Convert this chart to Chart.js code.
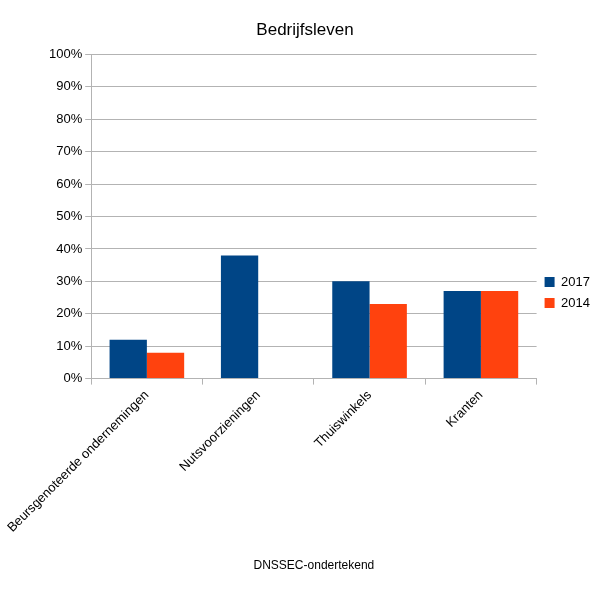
<!DOCTYPE html>
<html><head><meta charset="utf-8">
<script src="https://cdn.jsdelivr.net/npm/chart.js@4"></script>
<style>body{margin:0;background:#fff}#c{display:block}</style>
</head><body>
<div style="width:605px;height:589px"><canvas id="c"></canvas></div>
<script>
const categories = ["Beursgenoteerde ondernemingen", "Nutsvoorzieningen", "Thuiswinkels", "Kranten"];
const values2017 = [12, 38, 30, 27];
const values2014 = [8, 0, 23, 27];

Chart.defaults.font.family = "'Liberation Sans', Arial, sans-serif";
Chart.defaults.color = "#000";

new Chart(document.getElementById("c"), {
  type: "bar",
  data: {
    labels: categories,
    datasets: [
      { label: "2017", data: values2017, backgroundColor: "#004586" },
      { label: "2014", data: values2014, backgroundColor: "#ff420e" },
    ],
  },
  options: {
    animation: false,
    responsive: true,
    maintainAspectRatio: false,
    layout: { padding: { top: 8, right: 5, left: 10, bottom: 12 } },
    datasets: { bar: { barPercentage: 1, categoryPercentage: 0.67 } },
    scales: {
      y: {
        min: 0, max: 100,
        ticks: { stepSize: 10, font: { size: 13 }, callback: (v) => v + "%" },
        grid: { color: "#b3b3b3", tickLength: 6 },
        border: { color: "#b3b3b3" },
      },
      x: {
        ticks: { minRotation: 45, maxRotation: 45, font: { size: 13 } },
        grid: { display: true, drawOnChartArea: false, offset: true, color: "#b3b3b3", tickLength: 6 },
        border: { color: "#b3b3b3" },
        title: { display: true, text: "DNSSEC-ondertekend", font: { size: 12 }, padding: { top: 20 } },
      },
    },
    plugins: {
      title: { display: true, text: "Bedrijfsleven", font: { size: 17, weight: "normal" }, padding: { top: 12, bottom: 14 } },
      legend: {
        position: "right",
        labels: { boxWidth: 10, boxHeight: 10, font: { size: 13 }, padding: 8 },
      },
      tooltip: { enabled: false },
    },
  },
});
</script>
</body></html>
